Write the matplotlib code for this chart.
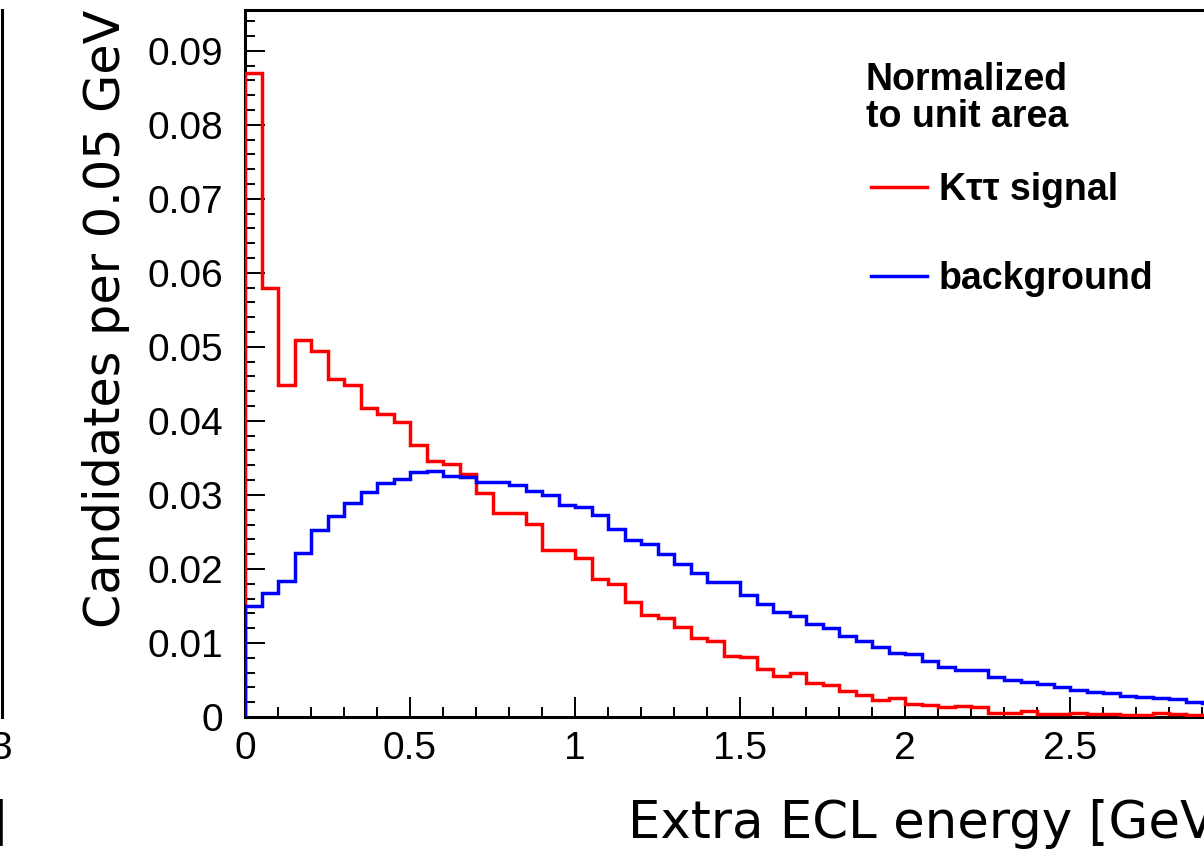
import numpy as np
import matplotlib
matplotlib.use("Agg")
import matplotlib.pyplot as plt
from matplotlib.ticker import MultipleLocator

# bin edges: 60 bins of 0.05 GeV from 0 to 3
edges = np.linspace(0, 3, 61)

# K tau tau signal (normalized to unit area)
signal = [0.0870, 0.0579, 0.0449, 0.0509, 0.0495, 0.0457, 0.0448, 0.0417, 0.0409, 0.0399,
          0.0367, 0.0346, 0.0342, 0.0328, 0.0303, 0.0276, 0.0275, 0.0261, 0.0225, 0.0225,
          0.0215, 0.0186, 0.0180, 0.0155, 0.0138, 0.0134, 0.0121, 0.0107, 0.0102, 0.0083,
          0.0081, 0.0065, 0.0055, 0.0059, 0.0046, 0.0043, 0.0035, 0.0030, 0.0023, 0.0025,
          0.0018, 0.0016, 0.0014, 0.0015, 0.0014, 0.0006, 0.0006, 0.0008, 0.0004, 0.0004,
          0.0005, 0.0004, 0.0004, 0.0003, 0.0003, 0.0005, 0.0004, 0.0003, 0.0003, 0.0002]

# background (normalized to unit area)
background = [0.0150, 0.0167, 0.0184, 0.0222, 0.0252, 0.0272, 0.0289, 0.0304, 0.0316, 0.0322,
              0.0331, 0.0332, 0.0326, 0.0324, 0.0318, 0.0317, 0.0313, 0.0305, 0.0300, 0.0286,
              0.0284, 0.0273, 0.0254, 0.0239, 0.0234, 0.0220, 0.0207, 0.0194, 0.0183, 0.0182,
              0.0165, 0.0152, 0.0142, 0.0136, 0.0125, 0.0120, 0.0109, 0.0103, 0.0094, 0.0087,
              0.0085, 0.0075, 0.0068, 0.0063, 0.0064, 0.0054, 0.0050, 0.0047, 0.0045, 0.0041,
              0.0037, 0.0034, 0.0032, 0.0029, 0.0027, 0.0025, 0.0024, 0.0020, 0.0019, 0.0017]

xticks = [0, 0.5, 1, 1.5, 2, 2.5, 3]
xticklabels = ["0", "0.5", "1", "1.5", "2", "2.5", "3"]

W, H = 1204, 850
fig = plt.figure(figsize=(W / 100, H / 100), dpi=100)

tickfont = {"family": "Liberation Sans", "size": 28}

# ---- main panel (extends past the right edge of the picture) ----
ax = fig.add_axes([245 / W, 133 / H, 990 / W, 707 / H])
ax.stairs(signal, edges, baseline=0, color="#ff0000", lw=2.5, zorder=3)
ax.stairs(background, edges, baseline=0, color="#0000ff", lw=2.5, zorder=3)

ax.set_xlim(0, 3)
ax.set_ylim(0, 0.0955)
ax.set_xticks(xticks)
ax.set_xticklabels(xticklabels, fontdict=tickfont)
ax.xaxis.set_minor_locator(MultipleLocator(0.1))
ax.yaxis.set_minor_locator(MultipleLocator(0.002))
ax.set_yticks(np.arange(0, 0.091, 0.01))
ax.set_yticklabels(["0"] + ["%.2f" % v for v in np.arange(0.01, 0.091, 0.01)], fontdict=tickfont)

ax.tick_params(which="both", direction="in", top=False, right=False, width=1.4, color="black")
ax.tick_params(which="major", length=14.4)
ax.tick_params(which="minor", length=7.2)
ax.tick_params(axis="x", pad=10)
ax.tick_params(axis="y", pad=16)
for s in ax.spines.values():
    s.set_linewidth(2.2)

ax.set_xlabel("Extra ECL energy [GeV]", family="DejaVu Sans", fontsize=37, loc="right")
ax.xaxis.set_label_coords(1.0, -(799 - 717) / 707)
ax.set_ylabel("Candidates per 0.05 GeV", family="DejaVu Sans", fontsize=35.5, loc="top")
ax.yaxis.set_label_coords(-(245 - 130) / 990, 1.0)

# legend
ax.text((866 - 245) / 990, (717 - 62) / 707, "Normalized\nto unit area", transform=ax.transAxes,
        ha="left", va="top", family="Liberation Sans", fontweight="bold", fontsize=27,
        linespacing=1.05)
leg = ax.legend(["K\u03c4\u03c4 signal", "background"], loc="upper left",
                bbox_to_anchor=((871 - 245) / 990, (717 - 172) / 707),
                frameon=False, borderpad=0, borderaxespad=0, handlelength=1.49,
                handletextpad=0.32, labelspacing=1.42,
                prop={"family": "Liberation Sans", "weight": "bold", "size": 27})
for h in leg.legend_handles:
    h.set_linewidth(2.5)

# ---- neighbouring panel, only its right edge shows ----
axl = fig.add_axes([1.5 / W - 0.5, 133 / H, 0.5, 707 / H])
axl.set_xlim(0, 3)
axl.set_ylim(0, 0.0955)
axl.set_xticks([3])
axl.set_xticklabels(["3"], fontdict=tickfont)
axl.set_yticks([])
axl.tick_params(axis="x", length=0, pad=10)
for k, s in axl.spines.items():
    s.set_visible(k == "right")
    s.set_linewidth(2.2)
axl.set_xlabel("Extra ECL energy [GeV]", family="DejaVu Sans", fontsize=37, loc="right")
axl.xaxis.set_label_coords(1.0 + 6 / 602, -(799 - 717) / 707)

fig.savefig("out.png", dpi=100)
